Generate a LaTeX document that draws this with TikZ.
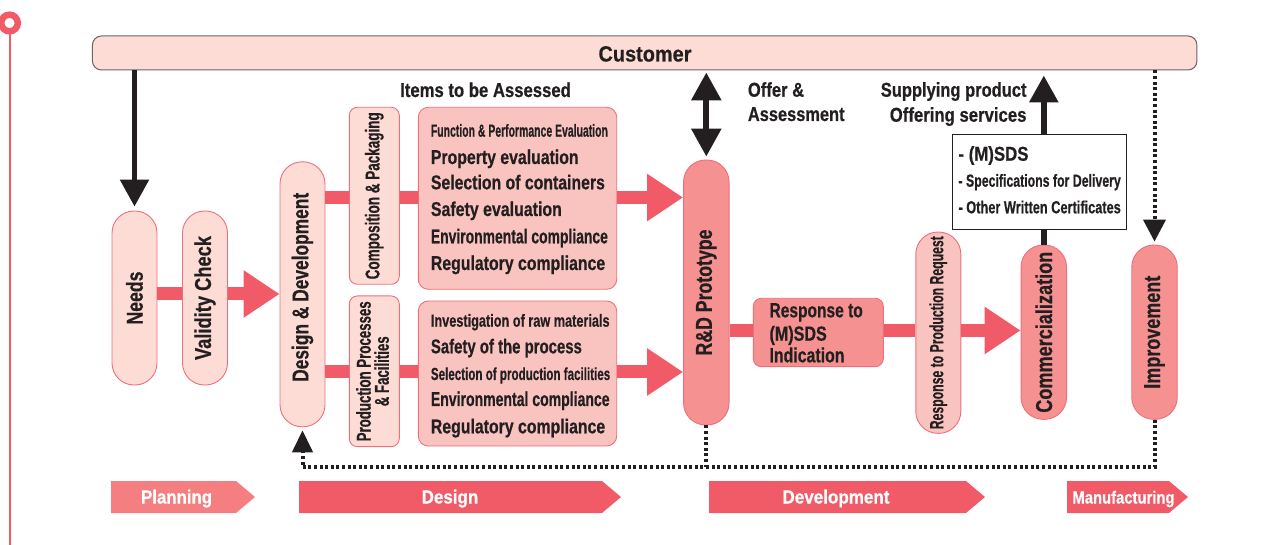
\documentclass[tikz,border=0pt]{standalone}
\usepackage{fontspec}
\setmainfont{Liberation Sans}[BoldFeatures={FakeBold=0.6}]
\usepackage{graphicx}
\usetikzlibrary{arrows.meta,calc}
\definecolor{pk}{HTML}{F15A67}
\definecolor{pkl}{HTML}{F47E80}
\definecolor{fillA}{HTML}{FDDCD6}
\definecolor{fillB}{HTML}{F9C3C0}
\definecolor{fillC}{HTML}{F59191}
\definecolor{bd}{HTML}{EE6F7B}
\definecolor{ink}{HTML}{231F20}
\definecolor{custbd}{HTML}{6E6466}
\newcommand\fitw[3]{\resizebox{#1pt}{\height}{\fontsize{#2pt}{#2pt}\selectfont\bfseries #3}}
\begin{document}
\begin{tikzpicture}[x=1pt,y=-1pt,
  every node/.style={inner sep=0pt,text=ink},
  pillA/.style={draw=bd,line width=0.9pt,fill=fillA,rounded corners=22pt,minimum width=45pt},
  pillB/.style={draw=bd,line width=0.9pt,fill=fillB,rounded corners=22pt,minimum width=45pt},
  pillC/.style={draw=bd,line width=0.9pt,fill=fillC,rounded corners=22pt,minimum width=45.5pt},
  boxA/.style={draw=bd,line width=0.9pt,fill=fillA,rounded corners=8pt},
  boxB/.style={draw=bd,line width=0.9pt,fill=fillB,rounded corners=10pt},
  boxC/.style={draw=bd,line width=0.9pt,fill=fillC,rounded corners=8pt},
  bar/.style={draw=pk,line width=13pt},
  parr/.style={bar,-{Triangle[width=45pt,length=36pt]}},
  karr/.style={draw=ink,line width=5.5pt,-{Triangle[width=28pt,length=27pt]}},
  kdarr/.style={draw=ink,line width=6pt,{Triangle[width=29pt,length=28pt]}-{Triangle[width=29pt,length=28pt]}},
  dotl/.style={draw=ink,line width=4pt,dash pattern=on 3pt off 2.6pt},
  txt/.style={anchor=base west},
  txtr/.style={anchor=base east},
  chev/.style={anchor=base,text=white}
]
\useasboundingbox (0,0) rectangle (1267,545);

% left decoration
\draw[pk,line width=2pt] (9.5,30) -- (9.5,545);
\draw[pk,line width=6.5pt,fill=white] (9.5,23) circle (8.3);

% customer bar
\node[draw=custbd,line width=1pt,fill=fillA,rounded corners=9pt,minimum width=1104.5pt,minimum height=34pt] (cust) at (644.7,53) {};
\node[anchor=base] (custT) at (645,61.5) {\fitw{93}{22}{Customer}};

% pills and boxes
\node[pillA,minimum height=174pt] (needs) at (134.5,298) {\rotatebox{90}{\fitw{53}{23}{Needs}}};
\node[pillA,minimum height=174pt] (valid) at (205,298) {\rotatebox{90}{\fitw{124}{23}{Validity Check}}};
\node[pillA,minimum height=265pt] (dd) at (302.5,294.3) {\rotatebox{90}{\hspace{14pt}\fitw{189}{23}{Design \& Development}}};
\node[boxA,minimum width=50pt,minimum height=177pt] (comp) at (374.3,195.8) {\rotatebox{90}{\fitw{167}{20}{Composition \& Packaging}}};
\node[boxA,minimum width=50pt,minimum height=150.7pt] (prod) at (374.3,371.3) {\rotatebox{90}{\begin{tabular}{@{}c@{}}\fitw{140}{20}{Production Processes}\\[0pt]\fitw{70}{20}{\& Facilities}\end{tabular}}};
\node[boxB,minimum width=198.4pt,minimum height=182pt] (boxT) at (517.5,198.3) {};
\node[boxB,minimum width=198.4pt,minimum height=145pt] (boxD) at (517.5,373.5) {};
\node[pillC,minimum height=265pt] (rd) at (706.3,292.5) {\rotatebox{90}{\fitw{126}{23}{R\&D Prototype}}};
\node[boxC,minimum width=130pt,minimum height=68.4pt] (resp) at (818.3,332.5) {};
\node[pillB,minimum height=201.3pt] (rpr) at (938.3,332.7) {\rotatebox{90}{\fitw{193}{19}{Response to Production Request}}};
\node[pillC,minimum height=174.3pt] (comm) at (1043.8,332.2) {\rotatebox{90}{\fitw{161}{23}{Commercialization}}};
\node[pillC,minimum height=174.3pt] (impr) at (1154.5,332.2) {\rotatebox{90}{\fitw{113}{23}{Improvement}}};

% pink connectors
\coordinate (yA) at (0,294);
\coordinate (yT) at (0,197.5);
\coordinate (yB) at (0,372);
\coordinate (yM) at (0,330.5);
\draw[bar] (needs.east |- yA) -- (valid.west |- yA);
\draw[parr] (valid.east |- yA) -- (dd.west |- yA);
\draw[bar] (dd.east |- yT) -- (comp.west |- yT);
\draw[bar] (comp.east |- yT) -- (boxT.west |- yT);
\draw[parr] (boxT.east |- yT) -- (rd.west |- yT);
\draw[bar] (dd.east |- yB) -- (prod.west |- yB);
\draw[bar] (prod.east |- yB) -- (boxD.west |- yB);
\draw[parr] (boxD.east |- yB) -- (rd.west |- yB);
\draw[bar] (rd.east |- yM) -- (resp.west |- yM);
\draw[bar] (resp.east |- yM) -- (rpr.west |- yM);
\draw[parr] (rpr.east |- yM) -- (comm.west |- yM);

% black arrows
\draw[karr,shorten >=4pt] (needs.north |- cust.south) -- (needs.north);
\draw[kdarr,shorten <=2pt,shorten >=3pt] (rd.north |- cust.south) -- (rd.north);
\draw[karr,line width=6pt,shorten >=5pt] (comm.north) -- (comm.north |- cust.south);

% white box
\node[draw=ink,line width=0.9pt,fill=white,minimum width=174pt,minimum height=95pt] (wb) at (1039.7,181.5) {};
\node[txt] (wb1) at (958.3,160.7) {\fitw{70}{20}{- (M)SDS}};
\node[txt] (wb2) at (958.3,186.7) {\fitw{162.3}{17.5}{- Specifications for Delivery}};
\node[txt] (wb3) at (958.3,213.3) {\fitw{162.3}{17.5}{- Other Written Certificates}};

% dotted feedback
\coordinate (fb) at (0,467);
\draw[dotl,-{Triangle[width=20pt,length=22pt]},shorten >=3pt] (impr.south) |- (dd.south |- fb) -- (dd.south);
\draw[dotl] (rd.south) -- (rd.south |- fb);
\draw[dotl,-{Triangle[width=22pt,length=22pt]},shorten >=3pt] (impr.north |- cust.south) -- (impr.north);

% labels
\node[txt] (items) at (400,97) {\fitw{170.7}{20}{Items to be Assessed}};
\node[txt] (offer1) at (747.7,96.7) {\fitw{56.3}{20}{Offer \&}};
\node[txt] (offer2) at (747.7,121) {\fitw{96.7}{20}{Assessment}};
\node[txtr] (sup1) at (1026.7,96.7) {\fitw{145.7}{20}{Supplying product}};
\node[txtr] (sup2) at (1026.7,121.7) {\fitw{136.7}{20}{Offering services}};

% top box text
\node[txt] (a1) at (430.7,136.7) {\fitw{177}{17.5}{Function \& Performance Evaluation}};
\node[txt] (a2) at (430.7,164) {\fitw{147.7}{20}{Property evaluation}};
\node[txt] (a3) at (430.7,189.3) {\fitw{174}{20}{Selection of containers}};
\node[txt] (a4) at (430.7,216) {\fitw{131}{20}{Safety evaluation}};
\node[txt] (a5) at (430.7,243.3) {\fitw{177}{20}{Environmental compliance}};
\node[txt] (a6) at (430.7,270) {\fitw{174.3}{20}{Regulatory compliance}};
% bottom box text
\node[txt] (b1) at (430.7,326.7) {\fitw{178.7}{17.5}{Investigation of raw materials}};
\node[txt] (b2) at (430.7,353.3) {\fitw{151}{20}{Safety of the process}};
\node[txt] (b3) at (430.7,380) {\fitw{179.3}{17.5}{Selection of production facilities}};
\node[txt] (b4) at (430.7,406) {\fitw{178.7}{20}{Environmental compliance}};
\node[txt] (b5) at (430.7,433.3) {\fitw{174.3}{20}{Regulatory compliance}};
% response box text
\node[txt] (r1) at (769.3,317.3) {\fitw{93.3}{20.5}{Response to}};
\node[txt] (r2) at (769.3,340.7) {\fitw{57.3}{20.5}{(M)SDS}};
\node[txt] (r3) at (769.3,362.3) {\fitw{75}{20.5}{Indication}};

% phase chevrons
\fill[pkl] (111,481) -- (236,481) -- (255,497) -- (236,513) -- (111,513) -- cycle;
\fill[pk] (299,481) -- (602,481) -- (621,497) -- (602,513) -- (299,513) -- cycle;
\fill[pk] (709,481) -- (966,481) -- (985,497) -- (966,513) -- (709,513) -- cycle;
\fill[pk] (1067,481) -- (1169,481) -- (1188,497) -- (1169,513) -- (1067,513) -- cycle;
\node[chev] (ph1) at (176.6,503.5) {\fitw{71}{19}{Planning}};
\node[chev] (ph2) at (450,503.5) {\fitw{56.6}{19}{Design}};
\node[chev] (ph3) at (836,503.5) {\fitw{107}{19}{Development}};
\node[chev] (ph4) at (1123.5,503.5) {\fitw{102}{17.5}{Manufacturing}};
\end{tikzpicture}
\end{document}
